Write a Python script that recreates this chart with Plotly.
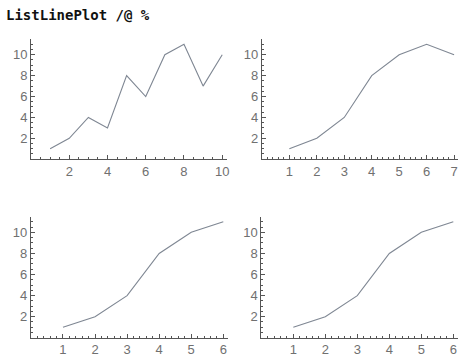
import plotly.graph_objects as go

# Data
x1 = list(range(1, 11))
y1 = [1, 2, 4, 3, 8, 6, 10, 11, 7, 10]
x2 = list(range(1, 8))
y2 = [1, 2, 4, 8, 10, 11, 10]
x3 = list(range(1, 7))
y3 = [1, 2, 4, 8, 10, 11]
x4 = list(range(1, 7))
y4 = [1, 2, 4, 8, 10, 11]
xticks1 = [2, 4, 6, 8, 10]
xticks2 = [1, 2, 3, 4, 5, 6, 7]
xticks3 = [1, 2, 3, 4, 5, 6]
xticks4 = [1, 2, 3, 4, 5, 6]
yticks = [2, 4, 6, 8, 10]
title_text = "ListLinePlot /@ %"

W, H = 468, 356
LINE = "#7f8793"
AXIS = "#555555"
TICKFONT = dict(family="Liberation Sans, Arial, sans-serif", size=13, color="#707070")

panels = [
    (x1, y1, xticks1, [0, 10.25], (31.0, 227.0), 159.2, 39.1, 0.5),
    (x2, y2, xticks2, [0, 7.15], (261.9, 458.2), 159.2, 39.1, 0.2),
    (x3, y3, xticks3, [0, 6.15], (30.9, 228.1), 337.8, 216.5, 0.2),
    (x4, y4, xticks4, [0, 6.15], (261.3, 458.1), 337.8, 216.5, 0.2),
]

fig = go.Figure()
layout = dict(
    width=W, height=H,
    margin=dict(l=0, r=0, t=0, b=0),
    paper_bgcolor="white", plot_bgcolor="white",
    showlegend=False,
)

for i, (xs, ys, xt, xr, (xl, xrpx), yb, yt, xm) in enumerate(panels, start=1):
    xa = "x" if i == 1 else f"x{i}"
    ya = "y" if i == 1 else f"y{i}"
    fig.add_trace(go.Scatter(x=xs, y=ys, mode="lines", xaxis=xa, yaxis=ya,
                             line=dict(color=LINE, width=1.1), hoverinfo="skip"))
    axcommon = dict(
        showgrid=False, zeroline=False, showline=True, linecolor=AXIS, linewidth=1,
        ticks="inside", ticklen=4, tickwidth=1, tickcolor=AXIS, tickfont=TICKFONT,
        automargin=False,
    )
    layout["xaxis" if i == 1 else f"xaxis{i}"] = dict(
        **axcommon, range=xr, domain=[xl / W, xrpx / W],
        anchor=ya, tickmode="array", tickvals=xt,
        minor=dict(ticks="inside", ticklen=2, tickcolor=AXIS, dtick=xm, tick0=0, showgrid=False),
    )
    layout["yaxis" if i == 1 else f"yaxis{i}"] = dict(
        **axcommon, range=[0, 11.5], domain=[(H - yb) / H, (H - yt) / H],
        anchor=xa, tickmode="array", tickvals=yticks,
        minor=dict(ticks="inside", ticklen=2, tickcolor=AXIS, dtick=0.5, tick0=0, showgrid=False),
    )

layout["annotations"] = [
    dict(text="<b>" + title_text + "</b>", xref="paper", yref="paper",
         x=4 / W, y=1 - 15 / H, xanchor="left", yanchor="middle", showarrow=False,
         font=dict(family="DejaVu Sans Mono, monospace", size=14, color="#111111")),
]

fig.update_layout(**layout)
fig.write_html(
    "out.html",
    config={"displayModeBar": False, "staticPlot": True},
    post_script="document.body.style.margin='0';document.body.style.overflow='hidden';",
)
